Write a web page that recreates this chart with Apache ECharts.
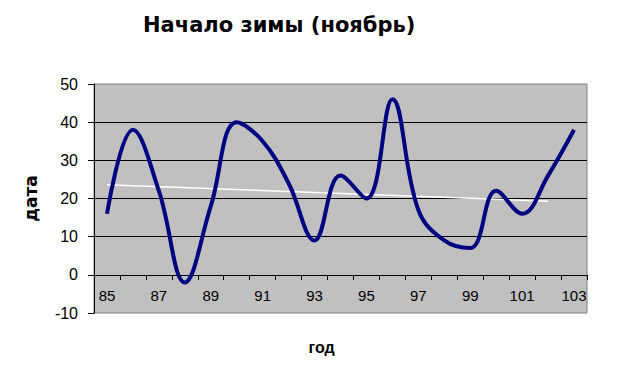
<!DOCTYPE html>
<html>
<head>
<meta charset="utf-8">
<script src="https://cdn.jsdelivr.net/npm/echarts@6/dist/echarts.min.js"></script>
<style>
html,body{margin:0;padding:0;background:#ffffff;}
#chart{width:639px;height:377px;}
</style>
</head>
<body>
<div id="chart"></div>
<script>
// Data
const years = ['85','86','87','88','89','90','91','92','93','94','95','96','97','98','99','100','101','102','103'];
const winterStart = [16, 38, 22, -2, 18, 40, 35, 24, 9, 26, 20, 46, 17, 9, 7, 22, 16, 26, 38];
const trendYears = ['85', '102'];
const trendValues = [23.6, 19.3];

const chartTitle = 'Начало зимы (ноябрь)';
const xName = 'год';
const yName = 'дата';

const FONT = '"Liberation Sans", Arial, sans-serif';
const FONT_WIDE = '"DejaVu Sans", "Liberation Sans", Arial, sans-serif';

const chart = echarts.init(document.getElementById('chart'), null, {renderer: 'svg'});
chart.setOption({
  animation: false,
  backgroundColor: '#ffffff',
  title: {
    text: chartTitle,
    left: 143,
    top: 14,
    padding: 0,
    textStyle: {fontFamily: FONT_WIDE, fontSize: 21, fontWeight: 'bold', color: '#000000'}
  },
  grid: {
    left: 94, right: 52, top: 84, bottom: 64,
    outerBoundsMode: 'none',
    containLabel: false,
    show: true,
    backgroundColor: '#c0c0c0',
    borderColor: '#808080',
    borderWidth: 1
  },
  xAxis: {
    type: 'category',
    data: years,
    boundaryGap: true,
    position: 'bottom',
    offset: -38,
    name: xName,
    nameLocation: 'middle',
    nameGap: 64,
    nameTextStyle: {fontFamily: FONT, fontSize: 16, fontWeight: 'bold', color: '#000000', padding: [0, 38, 0, 0]},
    axisLine: {show: true, onZero: false, lineStyle: {color: '#000000', width: 1}},
    axisTick: {show: true, interval: 0, length: 5, lineStyle: {color: '#000000'}},
    axisLabel: {interval: 1, margin: 13, fontFamily: FONT, fontSize: 15, color: '#000000'},
    splitLine: {show: false}
  },
  yAxis: {
    type: 'value',
    min: -10,
    max: 50,
    interval: 10,
    name: yName,
    nameLocation: 'middle',
    nameRotate: 90,
    nameGap: 55,
    nameTextStyle: {fontFamily: FONT_WIDE, fontSize: 17, fontWeight: 'bold', color: '#000000'},
    axisLine: {show: true, lineStyle: {color: '#000000', width: 1}},
    axisTick: {show: true, length: 6, lineStyle: {color: '#000000'}},
    axisLabel: {margin: 16, fontFamily: FONT, fontSize: 16, color: '#000000'},
    splitLine: {show: true, showMinLine: false, showMaxLine: false, lineStyle: {color: '#000000', width: 1}}
  },
  series: [
    {
      type: 'line',
      data: trendYears.map((y, i) => [y, trendValues[i]]),
      symbol: 'none',
      lineStyle: {color: '#ffffff', width: 1.5},
      z: 2,
      silent: true
    },
    {
      type: 'line',
      data: winterStart,
      smooth: 0.4,
      symbol: 'none',
      lineStyle: {color: '#000080', width: 4},
      z: 3
    }
  ]
});
</script>
</body>
</html>
